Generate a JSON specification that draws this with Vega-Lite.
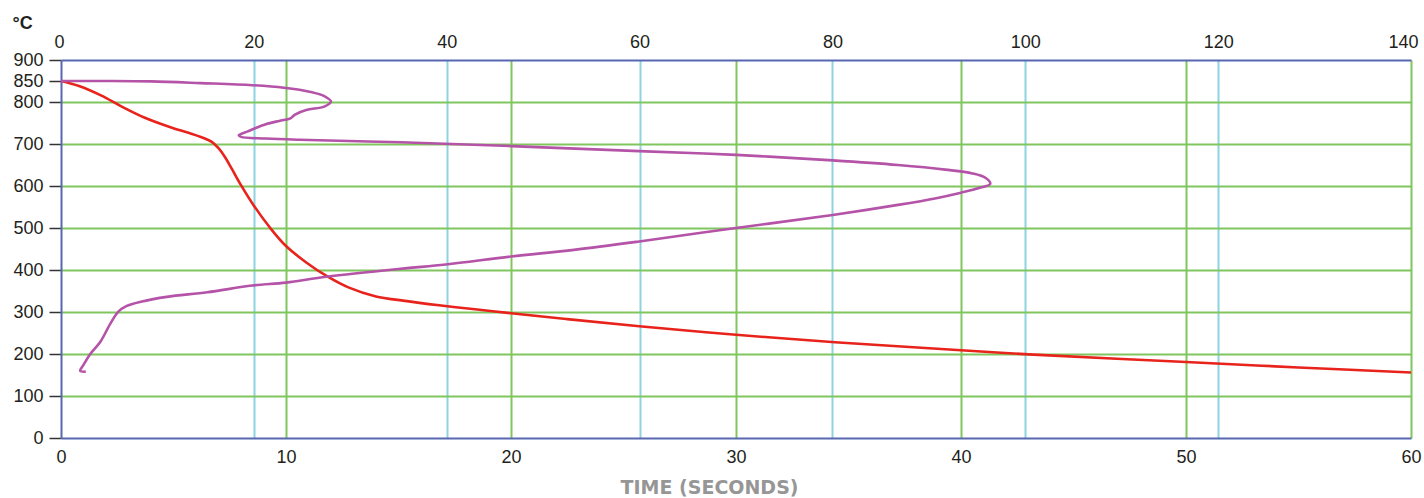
{
  "$schema": "https://vega.github.io/schema/vega-lite/v6.json",
  "width": 1350,
  "height": 378,
  "autosize": {"type": "none"},
  "padding": {"left": 61, "top": 60, "right": 13, "bottom": 60},
  "background": "white",
  "config": {"view": {"stroke": null}, "font": "Liberation Sans"},
  "layer": [
    {
      "data": {"values": [
        {"series": "cooling", "seq": 0, "time": 0, "temp": 850},
        {"series": "cooling", "seq": 1, "time": 0.8, "temp": 838},
        {"series": "cooling", "seq": 2, "time": 1.8, "temp": 815},
        {"series": "cooling", "seq": 3, "time": 2.7, "temp": 789},
        {"series": "cooling", "seq": 4, "time": 3.7, "temp": 763},
        {"series": "cooling", "seq": 5, "time": 4.8, "temp": 741},
        {"series": "cooling", "seq": 6, "time": 5.7, "temp": 726},
        {"series": "cooling", "seq": 7, "time": 6.3, "temp": 715},
        {"series": "cooling", "seq": 8, "time": 6.7, "temp": 705},
        {"series": "cooling", "seq": 9, "time": 7.0, "temp": 690},
        {"series": "cooling", "seq": 10, "time": 7.3, "temp": 668},
        {"series": "cooling", "seq": 11, "time": 7.6, "temp": 640},
        {"series": "cooling", "seq": 12, "time": 8.0, "temp": 602},
        {"series": "cooling", "seq": 13, "time": 8.55, "temp": 555},
        {"series": "cooling", "seq": 14, "time": 9.3, "temp": 500},
        {"series": "cooling", "seq": 15, "time": 10.0, "temp": 457},
        {"series": "cooling", "seq": 16, "time": 10.9, "temp": 418},
        {"series": "cooling", "seq": 17, "time": 11.8, "temp": 386},
        {"series": "cooling", "seq": 18, "time": 12.8, "temp": 358},
        {"series": "cooling", "seq": 19, "time": 14.0, "temp": 337},
        {"series": "cooling", "seq": 20, "time": 15.2, "temp": 327},
        {"series": "cooling", "seq": 21, "time": 16.8, "temp": 316},
        {"series": "cooling", "seq": 22, "time": 18.5, "temp": 306},
        {"series": "cooling", "seq": 23, "time": 20, "temp": 297},
        {"series": "cooling", "seq": 24, "time": 22.5, "temp": 283},
        {"series": "cooling", "seq": 25, "time": 25.7, "temp": 266},
        {"series": "cooling", "seq": 26, "time": 30, "temp": 246},
        {"series": "cooling", "seq": 27, "time": 34.4, "temp": 228},
        {"series": "cooling", "seq": 28, "time": 40, "temp": 209},
        {"series": "cooling", "seq": 29, "time": 43, "temp": 199},
        {"series": "cooling", "seq": 30, "time": 50, "temp": 181},
        {"series": "cooling", "seq": 31, "time": 55, "temp": 168},
        {"series": "cooling", "seq": 32, "time": 60, "temp": 156},
        {"series": "transformation", "seq": 0, "time": 0, "temp": 850},
        {"series": "transformation", "seq": 1, "time": 2, "temp": 850},
        {"series": "transformation", "seq": 2, "time": 4, "temp": 849},
        {"series": "transformation", "seq": 3, "time": 6.2, "temp": 845},
        {"series": "transformation", "seq": 4, "time": 8.5, "temp": 840},
        {"series": "transformation", "seq": 5, "time": 9.9, "temp": 834},
        {"series": "transformation", "seq": 6, "time": 11.1, "temp": 824},
        {"series": "transformation", "seq": 7, "time": 11.7, "temp": 814},
        {"series": "transformation", "seq": 8, "time": 12.0, "temp": 801},
        {"series": "transformation", "seq": 9, "time": 11.7, "temp": 789},
        {"series": "transformation", "seq": 10, "time": 10.9, "temp": 781},
        {"series": "transformation", "seq": 11, "time": 10.4, "temp": 770},
        {"series": "transformation", "seq": 12, "time": 10.2, "temp": 761},
        {"series": "transformation", "seq": 13, "time": 9.7, "temp": 755},
        {"series": "transformation", "seq": 14, "time": 9.1, "temp": 747},
        {"series": "transformation", "seq": 15, "time": 8.6, "temp": 737},
        {"series": "transformation", "seq": 16, "time": 8.3, "temp": 730},
        {"series": "transformation", "seq": 17, "time": 7.9, "temp": 721},
        {"series": "transformation", "seq": 18, "time": 8.0, "temp": 717},
        {"series": "transformation", "seq": 19, "time": 9.1, "temp": 713},
        {"series": "transformation", "seq": 20, "time": 10.6, "temp": 710},
        {"series": "transformation", "seq": 21, "time": 15.1, "temp": 704},
        {"series": "transformation", "seq": 22, "time": 20, "temp": 695},
        {"series": "transformation", "seq": 23, "time": 25.7, "temp": 683},
        {"series": "transformation", "seq": 24, "time": 30, "temp": 674},
        {"series": "transformation", "seq": 25, "time": 34.3, "temp": 661},
        {"series": "transformation", "seq": 26, "time": 37.2, "temp": 650},
        {"series": "transformation", "seq": 27, "time": 39.3, "temp": 639},
        {"series": "transformation", "seq": 28, "time": 40.5, "temp": 630},
        {"series": "transformation", "seq": 29, "time": 41.1, "temp": 619},
        {"series": "transformation", "seq": 30, "time": 41.3, "temp": 605},
        {"series": "transformation", "seq": 31, "time": 40.8, "temp": 595},
        {"series": "transformation", "seq": 32, "time": 40, "temp": 584},
        {"series": "transformation", "seq": 33, "time": 38.9, "temp": 571},
        {"series": "transformation", "seq": 34, "time": 37.2, "temp": 555},
        {"series": "transformation", "seq": 35, "time": 34.3, "temp": 531},
        {"series": "transformation", "seq": 36, "time": 30, "temp": 500},
        {"series": "transformation", "seq": 37, "time": 25.7, "temp": 468},
        {"series": "transformation", "seq": 38, "time": 22.8, "temp": 448},
        {"series": "transformation", "seq": 39, "time": 20, "temp": 432},
        {"series": "transformation", "seq": 40, "time": 17.1, "temp": 413},
        {"series": "transformation", "seq": 41, "time": 15.1, "temp": 403},
        {"series": "transformation", "seq": 42, "time": 11.8, "temp": 384},
        {"series": "transformation", "seq": 43, "time": 10, "temp": 370},
        {"series": "transformation", "seq": 44, "time": 8.5, "temp": 363},
        {"series": "transformation", "seq": 45, "time": 6.5, "temp": 347},
        {"series": "transformation", "seq": 46, "time": 4.7, "temp": 336},
        {"series": "transformation", "seq": 47, "time": 3.6, "temp": 325},
        {"series": "transformation", "seq": 48, "time": 2.9, "temp": 314},
        {"series": "transformation", "seq": 49, "time": 2.55, "temp": 301},
        {"series": "transformation", "seq": 50, "time": 2.2, "temp": 273},
        {"series": "transformation", "seq": 51, "time": 1.75, "temp": 229},
        {"series": "transformation", "seq": 52, "time": 1.3, "temp": 200},
        {"series": "transformation", "seq": 53, "time": 1.0, "temp": 174},
        {"series": "transformation", "seq": 54, "time": 0.85, "temp": 160},
        {"series": "transformation", "seq": 55, "time": 1.1, "temp": 158}
      ]},
      "mark": {"type": "line", "strokeWidth": 2.6, "strokeJoin": "round", "interpolate": "catmull-rom"},
      "encoding": {
        "x": {
          "field": "time", "type": "quantitative",
          "scale": {"domain": [0, 60], "nice": false, "zero": false},
          "axis": {
            "orient": "bottom",
            "values": [0, 10, 20, 30, 40, 50, 60],
            "ticks": false,
            "domainColor": "#5767b0", "domainWidth": 2,
            "grid": true, "gridColor": "#80c65f", "gridWidth": 2,
            "gridOpacity": {"condition": {"test": "datum.value === 0", "value": 0}, "value": 1},
            "labelFont": "Liberation Sans", "labelFontSize": 18, "labelColor": "#231f20",
            "labelPadding": 10, "labelOverlap": false, "labelFlush": false,
            "title": "TIME (SECONDS)",
            "titleFont": "DejaVu Sans", "titleFontSize": 19, "titleFontWeight": "bold",
            "titleColor": "#969696",
            "titleX": 648, "titleY": 55, "titleAlign": "center", "titleBaseline": "alphabetic"
          }
        },
        "y": {
          "field": "temp", "type": "quantitative",
          "scale": {"domain": [0, 900], "nice": false},
          "axis": {
            "values": [0, 100, 200, 300, 400, 500, 600, 700, 800, 850, 900],
            "tickSize": 12, "tickColor": "#333333", "tickWidth": 1.5,
            "domainColor": "#5767b0", "domainWidth": 2,
            "grid": true, "gridColor": "#80c65f", "gridWidth": 2,
            "gridOpacity": {"condition": {"test": "datum.value === 0 || datum.value >= 850", "value": 0}, "value": 1},
            "labelFont": "Liberation Sans", "labelFontSize": 18, "labelColor": "#231f20",
            "labelPadding": 6, "labelOverlap": false, "labelFlush": false,
            "title": "°C", "titleAngle": 0, "titleAlign": "left", "titleBaseline": "alphabetic",
            "titleX": -49, "titleY": -32,
            "titleFont": "Liberation Sans", "titleFontSize": 18, "titleFontWeight": "bold", "titleColor": "#231f20"
          }
        },
        "color": {
          "field": "series", "type": "nominal",
          "scale": {"domain": ["cooling", "transformation"], "range": ["#e8231c", "#b453a7"]},
          "legend": null
        },
        "order": {"field": "seq", "type": "quantitative"}
      }
    },
    {
      "data": {"values": [{"scale2": 0}, {"scale2": 140}]},
      "mark": {"type": "point", "opacity": 0},
      "encoding": {
        "x": {
          "field": "scale2", "type": "quantitative",
          "scale": {"domain": [0, 140], "nice": false},
          "axis": {
            "orient": "top",
            "values": [0, 20, 40, 60, 80, 100, 120, 140],
            "ticks": false,
            "domainColor": "#5767b0", "domainWidth": 2,
            "grid": true, "gridColor": "#8dd3e0", "gridWidth": 2,
            "gridOpacity": {"condition": {"test": "datum.value === 0 || datum.value === 140", "value": 0}, "value": 1},
            "labelFont": "Liberation Sans", "labelFontSize": 18, "labelColor": "#231f20",
            "labelPadding": 9, "labelOverlap": false, "labelFlush": true, "labelFlushOffset": 7,
            "title": null
          }
        }
      }
    }
  ],
  "resolve": {"scale": {"x": "independent"}}
}
